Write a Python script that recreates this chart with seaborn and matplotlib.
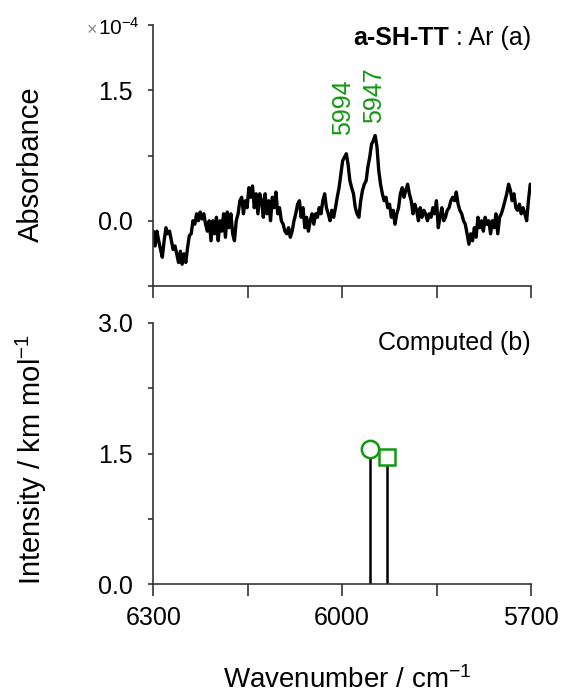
import matplotlib
matplotlib.use("Agg")
import matplotlib.pyplot as plt
import seaborn as sns
import pandas as pd

# ---- data -------------------------------------------------------------
wavenumber = [
    6300.0, 6297.1, 6294.3, 6291.4, 6288.5, 6285.7, 6282.8, 6279.9, 6277.1, 6274.2,
    6271.3, 6268.5, 6265.6, 6262.8, 6259.9, 6257.0, 6254.2, 6251.3, 6248.4, 6245.6,
    6242.7, 6239.8, 6237.0, 6234.1, 6231.2, 6228.4, 6225.5, 6222.6, 6219.8, 6216.9,
    6214.1, 6211.2, 6208.3, 6205.5, 6202.6, 6199.7, 6196.9, 6194.0, 6191.1, 6188.3,
    6185.4, 6182.5, 6179.7, 6176.8, 6173.9, 6171.1, 6168.2, 6165.3, 6162.5, 6159.6,
    6156.8, 6153.9, 6151.0, 6148.2, 6145.3, 6142.4, 6139.6, 6136.7, 6133.8, 6131.0,
    6128.1, 6125.2, 6122.4, 6119.5, 6116.6, 6113.8, 6110.9, 6108.0, 6105.2, 6102.3,
    6099.5, 6096.6, 6093.7, 6090.9, 6088.0, 6085.1, 6082.3, 6079.4, 6076.5, 6073.7,
    6070.8, 6067.9, 6065.1, 6062.2, 6059.3, 6056.5, 6053.6, 6050.7, 6047.9, 6045.0,
    6042.2, 6039.3, 6036.4, 6033.6, 6030.7, 6027.8, 6025.0, 6022.1, 6019.2, 6016.4,
    6013.5, 6010.6, 6007.8, 6004.9, 6002.0, 5999.2, 5996.3, 5993.4, 5990.6, 5987.7,
    5984.9, 5982.0, 5979.1, 5976.3, 5973.4, 5970.5, 5967.7, 5964.8, 5961.9, 5959.1,
    5956.2, 5953.3, 5950.5, 5947.6, 5944.7, 5941.9, 5939.0, 5936.1, 5933.3, 5930.4,
    5927.6, 5924.7, 5921.8, 5919.0, 5916.1, 5913.2, 5910.4, 5907.5, 5904.6, 5901.8,
    5898.9, 5896.0, 5893.2, 5890.3, 5887.4, 5884.6, 5881.7, 5878.8, 5876.0, 5873.1,
    5870.3, 5867.4, 5864.5, 5861.7, 5858.8, 5855.9, 5853.1, 5850.2, 5847.3, 5844.5,
    5841.6, 5838.7, 5835.9, 5833.0, 5830.1, 5827.3, 5824.4, 5821.5, 5818.7, 5815.8,
    5813.0, 5810.1, 5807.2, 5804.4, 5801.5, 5798.6, 5795.8, 5792.9, 5790.0, 5787.2,
    5784.3, 5781.4, 5778.6, 5775.7, 5772.8, 5770.0, 5767.1, 5764.2, 5761.4, 5758.5,
    5755.7, 5752.8, 5749.9, 5747.1, 5744.2, 5741.3, 5738.5, 5735.6, 5732.7, 5729.9,
    5727.0, 5724.1, 5721.3, 5718.4, 5715.5, 5712.7, 5709.8, 5706.9, 5704.1, 5701.2,
]

# absorbance in units of 1e-4
absorbance = [
    -0.12, -0.29, -0.12, -0.23, -0.33, -0.42, -0.23, -0.08, -0.15, -0.12,
    -0.23, -0.33, -0.29, -0.38, -0.48, -0.35, -0.50, -0.38, -0.48, -0.31,
    -0.17, -0.15, 0.00, -0.04, 0.08, 0.00, 0.10, 0.02, 0.08, -0.04,
    -0.12, 0.00, -0.23, 0.00, -0.15, 0.04, -0.23, 0.00, -0.12, 0.08,
    -0.19, 0.10, -0.08, 0.08, -0.15, -0.23, 0.00, 0.08, 0.23, 0.27,
    0.08, 0.23, 0.15, 0.38, 0.27, 0.40, 0.15, 0.31, 0.08, 0.31,
    0.23, 0.04, 0.31, 0.08, 0.23, 0.00, 0.27, 0.15, 0.33, 0.08,
    0.15, 0.00, -0.04, -0.12, -0.15, -0.08, -0.19, -0.12, 0.00, 0.08,
    0.19, 0.23, 0.04, 0.15, -0.08, 0.04, -0.12, 0.00, 0.08, -0.04,
    0.08, 0.04, 0.15, 0.08, 0.23, 0.31, 0.15, 0.08, 0.00, 0.12,
    0.04, 0.15, 0.27, 0.38, 0.54, 0.69, 0.73, 0.77, 0.65, 0.46,
    0.38, 0.31, 0.15, 0.08, 0.04, 0.23, 0.35, 0.42, 0.46, 0.62,
    0.73, 0.88, 0.92, 0.98, 0.85, 0.58, 0.42, 0.31, 0.23, 0.27,
    0.15, 0.19, 0.04, 0.12, -0.04, 0.08, 0.15, 0.31, 0.38, 0.27,
    0.35, 0.42, 0.31, 0.23, 0.08, 0.19, 0.12, 0.00, 0.15, 0.04,
    0.12, 0.08, 0.00, 0.08, 0.04, 0.15, 0.08, 0.23, -0.08, 0.04,
    0.15, 0.00, 0.04, 0.12, 0.15, 0.23, 0.27, 0.23, 0.33, 0.19,
    0.12, 0.08, 0.00, -0.04, -0.15, -0.27, -0.15, -0.23, -0.08, -0.19,
    0.04, -0.08, 0.00, -0.12, 0.04, -0.04, 0.00, -0.15, 0.00, -0.08,
    0.08, -0.15, 0.04, 0.08, 0.15, 0.23, 0.31, 0.42, 0.35, 0.23,
    0.31, 0.15, 0.12, 0.19, 0.08, 0.15, 0.08, 0.00, 0.23, 0.42,
]

peak_labels = ["5994", "5947"]
peak_label_x = [5999, 5950]
peak_label_y = [0.98, 1.12]

computed_wn = [5956.5, 5928.5]
computed_int = [1.55, 1.46]
computed_marker = ["o", "s"]

x_ticks = [6300, 6150, 6000, 5850, 5700]
x_ticklabels = ["6300", "", "6000", "", "5700"]
y1_ticks = [-0.75, 0.0, 0.75, 1.5, 2.25]
y1_ticklabels = ["", "0.0", "", "1.5", ""]
y2_ticks = [0.0, 0.75, 1.5, 2.25, 3.0]
y2_ticklabels = ["0.0", "", "1.5", "", "3.0"]

# ---- style ------------------------------------------------------------
sns.set_theme(style="ticks")
plt.rcParams["font.family"] = ["Liberation Sans", "DejaVu Sans"]
plt.rcParams["mathtext.fontset"] = "custom"
plt.rcParams["mathtext.rm"] = "Liberation Sans"
plt.rcParams["mathtext.it"] = "Liberation Sans:italic"
plt.rcParams["mathtext.bf"] = "Liberation Sans:bold"
plt.rcParams["text.color"] = "black"
plt.rcParams["axes.labelcolor"] = "black"
plt.rcParams["xtick.labelcolor"] = "black"
plt.rcParams["ytick.labelcolor"] = "black"

green = "#119911"
spine_col = "#333333"

W, H = 563, 697
fig = plt.figure(figsize=(W / 100, H / 100), dpi=100)
left, right = 153.3, 531.0
ax1 = fig.add_axes([left / W, 1 - 286 / H, (right - left) / W, 261 / H])
ax2 = fig.add_axes([left / W, 1 - 584 / H, (right - left) / W, 261 / H])

spec = pd.DataFrame({"wn": wavenumber, "abs": absorbance})
sns.lineplot(data=spec, x="wn", y="abs", ax=ax1, color="black", lw=2.4,
             estimator=None, sort=False)

sticks = pd.DataFrame({"wn": computed_wn, "I": computed_int, "m": computed_marker})
ax2.vlines(sticks["wn"], 0, sticks["I"], colors="black", lw=1.8, zorder=2)
for _, r in sticks.iterrows():
    ax2.plot([r["wn"]], [r["I"]], marker=r["m"], ms=12.5 if r["m"] == "o" else 11.5,
             mfc="white", mec=green, mew=1.8, zorder=3, clip_on=False)

for ax in (ax1, ax2):
    ax.set_xlim(6300, 5700)
    ax.set_xticks(x_ticks)
    for s in ("top", "right"):
        ax.spines[s].set_visible(False)
    for s in ("left", "bottom"):
        ax.spines[s].set_color(spine_col)
        ax.spines[s].set_linewidth(1.2)
    ax.tick_params(axis="x", direction="out", length=8.6, width=1.2,
                   color=spine_col, labelcolor="black", labelsize=18, pad=7)
    ax.tick_params(axis="y", direction="out", length=3.8, width=1.2,
                   color=spine_col, labelcolor="black", labelsize=18, pad=11)
    ax.set_xlabel("")
    ax.set_ylabel("")

ax1.set_ylim(-0.75, 2.25)
ax1.set_yticks(y1_ticks)
ax1.set_yticklabels(y1_ticklabels)
ax1.set_xticklabels([])

ax2.set_ylim(0, 3.0)
ax2.set_yticks(y2_ticks)
ax2.set_yticklabels(y2_ticklabels)
ax2.set_xticklabels(x_ticklabels)

# peak labels
for lab, x, y in zip(peak_labels, peak_label_x, peak_label_y):
    ax1.text(x, y, lab, rotation=90, ha="center", va="bottom",
             color=green, fontsize=18)

# panel captions
t = ax1.text(1.0, 0.923, " : Ar (a)", transform=ax1.transAxes,
             ha="right", va="baseline", fontsize=18)
ax1.annotate("a-SH-TT", xy=(0, 0), xycoords=t, ha="right", va="bottom",
             fontsize=18, fontweight="bold")
ax2.text(1.0, 0.897, "Computed (b)", transform=ax2.transAxes,
         ha="right", va="baseline", fontsize=18)

# scale factor of the absorbance axis
fig.text(140 / W, 1 - 35 / H, r"10$^{-4}$", ha="right", va="baseline",
         fontsize=15)
fig.text(97 / W, 1 - 35 / H, "×", ha="right", va="baseline",
         fontsize=13, color="#888888")

# axis titles
fig.text(31 / W, 1 - 164 / H, "Absorbance", rotation=90,
         ha="center", va="center", fontsize=21)
fig.text(31 / W, 1 - 459 / H, r"Intensity / km mol$^{-1}$", rotation=90,
         ha="center", va="center", fontsize=21)
fig.text(347 / W, 1 - 680 / H, r"Wavenumber / cm$^{-1}$",
         ha="center", va="center", fontsize=20)

fig.savefig("out.png", dpi=100)
